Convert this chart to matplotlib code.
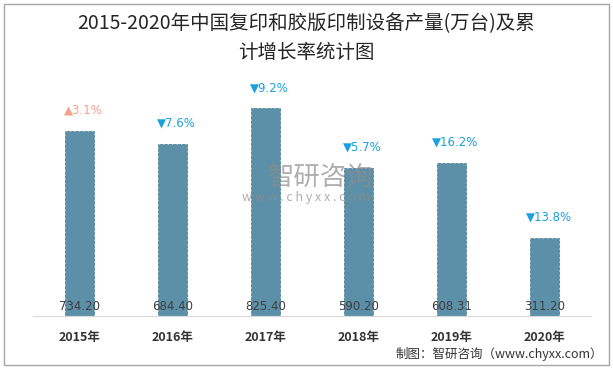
import matplotlib.pyplot as plt
from matplotlib.patches import Rectangle

plt.rcParams['font.family'] = ['Noto Sans CJK SC', 'DejaVu Sans']

# 数据
years = ['2015年', '2016年', '2017年', '2018年', '2019年', '2020年']
output = [734.20, 684.40, 825.40, 590.20, 608.31, 311.20]
growth = [3.1, -7.6, -9.2, -5.7, -16.2, -13.8]

bar_color = '#5b90a8'
up_color = '#f4a08a'
down_color = '#1aa0dc'

fig = plt.figure(figsize=(6.13, 3.69), dpi=100)
ax = fig.add_axes([0.054, 0.1436, 0.910, 0.6136])

x = range(len(years))
ax.bar(x, output, width=0.31, color=bar_color, edgecolor='#4f8198',
       linestyle='--', linewidth=0.6, zorder=2)

for i, v in enumerate(output):
    ax.text(i, 12, '%.2f' % v, ha='center', va='bottom', fontsize=8.5,
            color='#404040', family=['DejaVu Sans'], zorder=3)

for i, (v, g) in enumerate(zip(output, growth)):
    if g >= 0:
        s, c = '▲' + str(g) + '%', up_color
    else:
        s, c = '▼' + str(abs(g)) + '%', down_color
    ax.annotate(s, (i, v), xytext=(3, 15), textcoords='offset points',
                ha='center', va='center', fontsize=8.5, color=c,
                family=['DejaVu Sans'])

ax.set_xlim(-0.5, len(years) - 0.5)
ax.set_ylim(0, 900)
ax.set_xticks(list(x))
ax.set_xticklabels(years, fontsize=9, fontweight='bold', color='#333333')
ax.tick_params(axis='x', length=0, pad=11)
ax.set_yticks([])
for k in ['top', 'right', 'left']:
    ax.spines[k].set_visible(False)
ax.spines['bottom'].set_color('#d9d9d9')

# 标题
fig.text(0.5, 0.935, '2015-2020年中国复印和胶版印制设备产量(万台)及累',
         ha='center', va='center', fontsize=14, fontweight='medium', color='#262626')
fig.text(0.5, 0.858, '计增长率统计图', ha='center', va='center',
         fontsize=14, fontweight='medium', color='#262626')

# 水印
fig.text(0.524, 0.518, '智研咨询', ha='center', va='center', fontsize=19,
         color='#8c8c8c', alpha=0.7, zorder=10)
fig.text(0.50, 0.466, 'w w w . c h y x x . c o m', ha='center', va='center',
         fontsize=9, color='#8c8c8c', alpha=0.7, zorder=10)

fig.text(0.983, 0.04, '制图：智研咨询（www.chyxx.com）', ha='right', va='center',
         fontsize=9, color='#333333')

fig.patches.append(Rectangle((0.007, 0.011), 0.986, 0.978, transform=fig.transFigure,
                             fill=False, edgecolor='#a6a6a6', linewidth=1))

fig.savefig('out.png', dpi=100)
